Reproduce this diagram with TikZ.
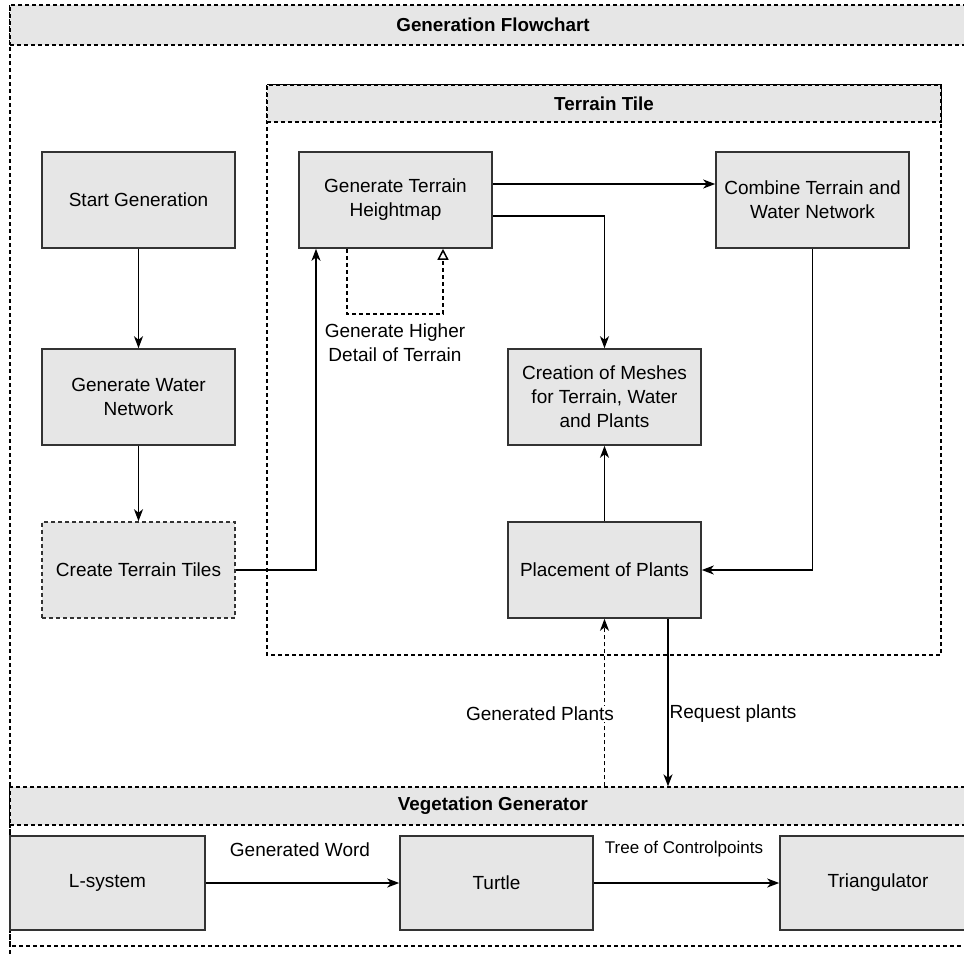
\documentclass[tikz,border=0pt]{standalone}
\usepackage{fontspec}
\setmainfont{Liberation Sans}
\usetikzlibrary{arrows.meta,positioning,calc}
\definecolor{boxfill}{HTML}{E6E6E6}
\definecolor{boxline}{HTML}{333333}
\tikzset{
  box/.style={draw=boxline, line width=1.6pt, fill=boxfill, minimum width=193pt, minimum height=96pt, align=center, inner sep=2pt, font=\fontsize{19}{24}\selectfont},
  dbox/.style={box, dash pattern=on 4pt off 3pt},
  frame/.style={draw=black, line width=1.3pt, dash pattern=on 4pt off 3pt},
  hdr/.style={frame, fill=boxfill, font=\fontsize{18.8}{22}\selectfont\bfseries, inner sep=0pt},
  arr/.style={draw=black, line width=1.6pt, -{Stealth[length=12pt,width=9pt,inset=3.5pt]}},
  darr/.style={arr, dash pattern=on 4pt off 3pt},
  lbl/.style={font=\fontsize{19}{24}\selectfont, align=center, inner sep=1pt},
  wlbl/.style={lbl, fill=white}
}
\begin{document}
\begin{tikzpicture}[x=1pt,y=-1pt]
\useasboundingbox (0,0) rectangle (964,954);
\clip (0,0) rectangle (964,954);
% outer frame
\draw[frame] (10,5) rectangle (976,970);
\node[hdr, minimum width=966pt, minimum height=40pt] (mainhdr) at (493,25) {Generation Flowchart};
% terrain tile frame
\draw[frame] (267,85) rectangle (941,655);
\node[hdr, minimum width=674pt, minimum height=37pt] (tilehdr) at (604,103.5) {Terrain Tile};
% vegetation frame
\draw[frame] (10,787) rectangle (976,946);
\node[hdr, minimum width=966pt, minimum height=38pt] (veghdr) at (493,806) {Vegetation Generator};

% left column
\node[box] (start) at (138.5,200) {Start Generation};
\node[box] (water) at (138.5,397) {Generate Water\\Network};
\node[dbox] (tiles) at (138.5,570) {Create Terrain Tiles};

% terrain tile
\node[box] (hm) at (395.5,200) {Generate Terrain\\Heightmap};
\node[box] (comb) at (812.5,200) {Combine Terrain and\\Water Network};
\node[box] (mesh) at (604.5,397) {Creation of Meshes\\for Terrain, Water\\and Plants};
\node[box] (place) at (604.5,570) {Placement of Plants};

% vegetation
\node[box, minimum width=195pt, minimum height=94pt] (lsys) at (107.5,883) {L-system};
\node[box, minimum height=94pt] (turtle) at (496.5,883) {Turtle};
\node[box, minimum width=196pt, minimum height=94pt] (tri) at (878,883) {Triangulator};

% connectors
\draw[arr] (start) -- (water);
\draw[arr] (water) -- (tiles);
\draw[arr] (tiles.east) -| ([xshift=-79.5pt]hm.south);
\draw[arr] ([yshift=16pt]hm.east) -- ([yshift=16pt]hm.east -| comb.west);
\draw[arr] ([yshift=-16pt]hm.east) -| (mesh.north);
\draw[arr] (comb.south) |- (place.east);
\draw[arr] (place.north) -- (mesh.south);
\coordinate (loopa) at ([xshift=-48.5pt]hm.south);
\coordinate (loopb) at ([xshift=47.5pt]hm.south);
\draw[black, line width=1.5pt, dash pattern=on 4pt off 3pt, -{Triangle[open, fill=white, length=11pt, width=11pt]}] (loopa) -- ++(0,65) -| (loopb);
\node[lbl] (looplbl) at (395,343) {Generate Higher\\Detail of Terrain};

\coordinate (gp) at (place.south);
\draw[darr] (gp |- veghdr.north) -- (gp);
\coordinate (rp) at ([xshift=63.5pt]place.south);
\draw[arr] (rp) -- (rp |- veghdr.north);
\node[wlbl] (gplbl) at (540,714) {Generated Plants};
\node[wlbl] (rplbl) at (733,714) {Request plants};

\draw[arr] (lsys) -- (turtle);
\draw[arr] (turtle) -- (tri);
\node[lbl] (gwlbl) at (300,850) {Generated Word};
\node[lbl, font=\fontsize{17}{20}\selectfont] (tclbl) at (684,849) {Tree of Controlpoints};
\end{tikzpicture}
\end{document}
